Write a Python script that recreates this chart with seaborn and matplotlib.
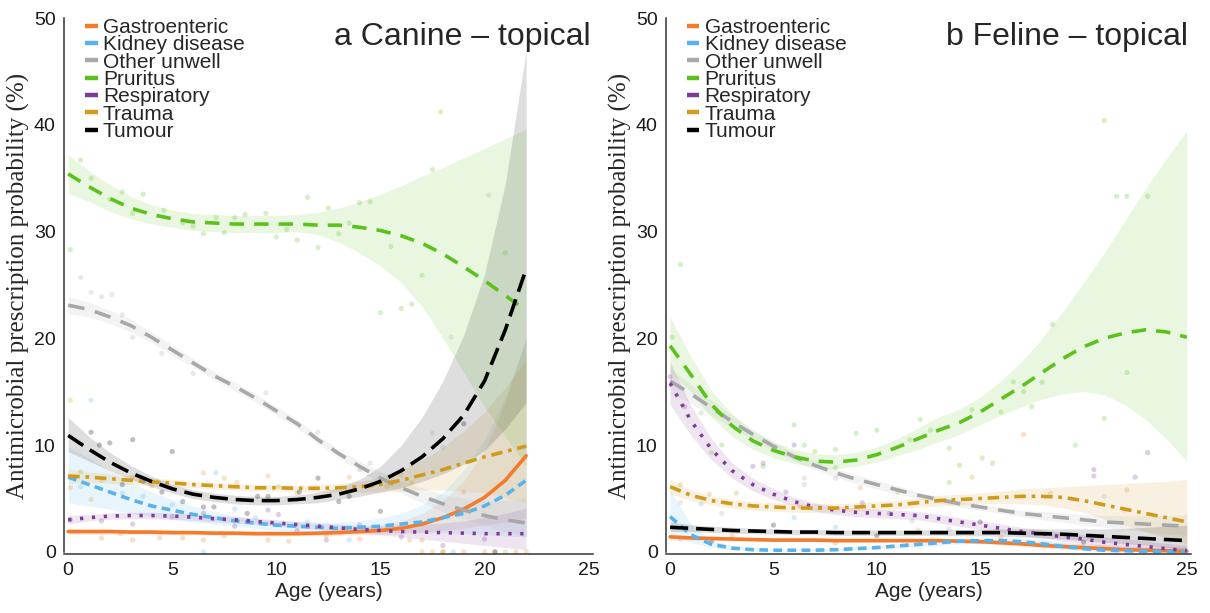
import numpy as np
import pandas as pd
import matplotlib
matplotlib.use("Agg")
import matplotlib.pyplot as plt
from matplotlib.lines import Line2D
import seaborn as sns

causes = ["Gastroenteric", "Kidney disease", "Other unwell", "Pruritus",
          "Respiratory", "Trauma", "Tumour"]
colors = {"Gastroenteric": "#F47A2C", "Kidney disease": "#5AB2EC",
          "Other unwell": "#A8A8A8", "Pruritus": "#5BC21C",
          "Respiratory": "#7D3C98", "Trauma": "#D09A1A", "Tumour": "#000000"}
dashes = {"Gastroenteric": "", "Kidney disease": (2.4, 1.5), "Other unwell": (4.6, 3.0),
          "Pruritus": (4.0, 2.8), "Respiratory": (0.9, 2.4), "Trauma": (3.2, 1.6, 1.0, 1.6),
          "Tumour": (5.0, 2.2)}

# ---- a: canine, ages 0..22 ----
age_c = list(range(0, 23))
gastro_c = [1.9, 1.9, 1.9, 1.85, 1.85, 1.8, 1.8, 1.75, 1.75, 1.7, 1.7, 1.7, 1.75, 1.8, 1.9, 2.0, 2.2, 2.6, 3.2, 4.0, 5.1, 6.7, 9.0]
gastro_c_lo = [1.6, 1.65, 1.65, 1.65, 1.6, 1.6, 1.6, 1.55, 1.55, 1.5, 1.5, 1.5, 1.5, 1.5, 1.6, 1.6, 1.7, 1.8, 2.0, 2.2, 2.5, 2.8, 3.2]
gastro_c_hi = [2.2, 2.15, 2.15, 2.1, 2.1, 2.05, 2.0, 2.0, 2.0, 1.95, 1.95, 1.95, 2.0, 2.15, 2.3, 2.5, 2.9, 3.6, 4.8, 6.6, 9.5, 14.0, 20.0]
kidney_c = [7.0, 6.3, 5.6, 4.9, 4.3, 3.9, 3.5, 3.2, 2.9, 2.7, 2.5, 2.4, 2.3, 2.2, 2.3, 2.4, 2.6, 2.8, 3.2, 3.6, 4.3, 5.3, 6.7]
kidney_c_lo = [4.6, 4.3, 4.0, 3.6, 3.3, 3.0, 2.8, 2.6, 2.4, 2.2, 2.0, 1.9, 1.8, 1.75, 1.75, 1.8, 1.8, 1.8, 1.8, 1.7, 1.6, 1.5, 1.4]
kidney_c_hi = [9.8, 8.8, 7.6, 6.5, 5.6, 4.9, 4.3, 3.8, 3.4, 3.1, 2.9, 2.8, 2.8, 2.8, 2.9, 3.2, 3.6, 4.4, 5.6, 7.6, 10.5, 14.5, 20.0]
other_c = [23.1, 22.7, 22.0, 21.2, 20.1, 18.9, 17.7, 16.5, 15.5, 14.4, 13.2, 12.0, 10.5, 9.2, 8.0, 6.9, 6.0, 5.2, 4.5, 3.9, 3.4, 3.0, 2.7]
other_c_lo = [22.3, 22.0, 21.4, 20.6, 19.6, 18.4, 17.3, 16.1, 15.1, 14.0, 12.8, 11.6, 10.1, 8.8, 7.6, 6.4, 5.5, 4.6, 3.8, 3.1, 2.5, 1.9, 1.4]
other_c_hi = [23.9, 23.4, 22.6, 21.8, 20.6, 19.4, 18.1, 16.9, 15.9, 14.8, 13.6, 12.4, 10.9, 9.6, 8.5, 7.5, 6.6, 6.0, 5.4, 5.0, 4.8, 4.8, 5.0]
prur_c = [35.4, 34.2, 33.1, 32.2, 31.6, 31.2, 30.9, 30.8, 30.7, 30.7, 30.7, 30.7, 30.6, 30.6, 30.4, 30.1, 29.6, 28.9, 27.9, 26.7, 25.4, 24.0, 22.6]
prur_c_lo = [33.6, 32.8, 31.9, 31.2, 30.7, 30.4, 30.1, 30.0, 29.9, 29.9, 29.9, 30.0, 29.7, 29.0, 28.0, 26.8, 25.2, 23.0, 20.0, 16.8, 13.6, 10.8, 8.0]
prur_c_hi = [37.2, 35.7, 34.4, 33.3, 32.5, 32.0, 31.7, 31.6, 31.5, 31.5, 31.5, 31.6, 31.8, 32.2, 32.8, 33.5, 34.3, 35.2, 36.0, 36.9, 37.8, 38.7, 39.6]
resp_c = [3.0, 3.2, 3.35, 3.4, 3.4, 3.35, 3.25, 3.1, 3.0, 2.85, 2.7, 2.55, 2.4, 2.25, 2.1, 2.0, 1.9, 1.85, 1.8, 1.75, 1.7, 1.7, 1.7]
resp_c_lo = [2.6, 2.9, 3.05, 3.1, 3.1, 3.05, 2.95, 2.8, 2.7, 2.55, 2.4, 2.25, 2.1, 1.95, 1.75, 1.6, 1.4, 1.2, 1.0, 0.8, 0.6, 0.4, 0.2]
resp_c_hi = [3.4, 3.5, 3.65, 3.7, 3.7, 3.65, 3.55, 3.4, 3.3, 3.15, 3.0, 2.85, 2.7, 2.6, 2.5, 2.45, 2.45, 2.55, 2.7, 2.9, 3.2, 3.6, 4.1]
trauma_c = [7.1, 7.0, 6.85, 6.7, 6.55, 6.45, 6.3, 6.2, 6.1, 6.0, 6.0, 5.95, 5.95, 6.0, 6.1, 6.3, 6.7, 7.2, 7.7, 8.3, 8.9, 9.4, 9.9]
trauma_c_lo = [6.4, 6.5, 6.4, 6.3, 6.2, 6.1, 6.0, 5.9, 5.8, 5.7, 5.7, 5.65, 5.6, 5.6, 5.6, 5.6, 5.7, 5.8, 5.8, 5.7, 5.5, 5.1, 4.6]
trauma_c_hi = [7.8, 7.5, 7.3, 7.1, 6.9, 6.8, 6.6, 6.5, 6.4, 6.3, 6.3, 6.25, 6.3, 6.4, 6.6, 7.0, 7.7, 8.6, 9.8, 11.3, 13.1, 15.4, 18.0]
tumour_c = [10.9, 9.6, 8.4, 7.4, 6.6, 5.9, 5.4, 5.1, 4.9, 4.8, 4.8, 4.9, 5.1, 5.4, 5.9, 6.6, 7.6, 8.9, 10.6, 12.8, 16.0, 20.8, 26.5]
tumour_c_lo = [9.4, 8.5, 7.6, 6.8, 6.1, 5.5, 5.0, 4.7, 4.5, 4.4, 4.4, 4.5, 4.6, 4.9, 5.2, 5.6, 6.0, 6.6, 7.3, 8.2, 9.5, 11.5, 14.0]
tumour_c_hi = [12.6, 10.8, 9.3, 8.1, 7.1, 6.3, 5.8, 5.5, 5.3, 5.2, 5.2, 5.3, 5.6, 6.0, 6.8, 8.0, 10.0, 12.6, 16.0, 20.3, 26.0, 34.5, 47.0]

# ---- b: feline, ages 0..25 ----
age_f = list(range(0, 26))
gastro_f = [1.4, 1.3, 1.25, 1.2, 1.15, 1.1, 1.1, 1.1, 1.05, 1.05, 1.05, 1.05, 1.05, 1.05, 1.0, 0.95, 0.85, 0.75, 0.6, 0.5, 0.4, 0.3, 0.2, 0.15, 0.1, 0.05]
gastro_f_lo = [1.1, 1.1, 1.05, 1.0, 1.0, 0.95, 0.95, 0.95, 0.9, 0.9, 0.9, 0.9, 0.9, 0.9, 0.85, 0.75, 0.65, 0.5, 0.35, 0.25, 0.15, 0.1, 0.05, 0.02, 0.0, 0.0]
gastro_f_hi = [1.7, 1.5, 1.45, 1.4, 1.3, 1.25, 1.25, 1.25, 1.2, 1.2, 1.2, 1.2, 1.2, 1.2, 1.2, 1.15, 1.1, 1.0, 0.95, 0.85, 0.8, 0.7, 0.6, 0.55, 0.5, 0.45]
kidney_f = [3.3, 1.6, 0.7, 0.35, 0.2, 0.15, 0.15, 0.15, 0.2, 0.3, 0.4, 0.55, 0.7, 0.85, 1.0, 1.05, 1.05, 0.95, 0.75, 0.5, 0.3, 0.15, 0.1, 0.05, 0.03, 0.02]
kidney_f_lo = [1.6, 0.9, 0.4, 0.2, 0.1, 0.08, 0.08, 0.08, 0.1, 0.15, 0.25, 0.35, 0.5, 0.6, 0.75, 0.8, 0.8, 0.65, 0.45, 0.25, 0.1, 0.05, 0.02, 0.0, 0.0, 0.0]
kidney_f_hi = [5.8, 2.6, 1.1, 0.6, 0.35, 0.3, 0.3, 0.3, 0.35, 0.45, 0.6, 0.75, 0.9, 1.1, 1.25, 1.3, 1.35, 1.3, 1.15, 0.95, 0.75, 0.6, 0.5, 0.45, 0.4, 0.4]
other_f = [16.0, 14.8, 13.5, 12.2, 11.0, 9.9, 8.9, 8.1, 7.4, 6.8, 6.3, 5.8, 5.3, 4.9, 4.5, 4.2, 3.9, 3.6, 3.4, 3.2, 3.0, 2.8, 2.7, 2.6, 2.5, 2.4]
other_f_lo = [14.8, 13.9, 12.8, 11.6, 10.5, 9.5, 8.5, 7.7, 7.0, 6.4, 5.9, 5.4, 5.0, 4.6, 4.2, 3.9, 3.6, 3.3, 3.0, 2.8, 2.5, 2.3, 2.1, 1.9, 1.7, 1.5]
other_f_hi = [17.2, 15.7, 14.2, 12.8, 11.5, 10.3, 9.3, 8.5, 7.8, 7.2, 6.7, 6.2, 5.6, 5.2, 4.8, 4.5, 4.2, 3.9, 3.8, 3.6, 3.5, 3.4, 3.4, 3.4, 3.4, 3.5]
prur_f = [19.3, 16.6, 13.8, 11.8, 10.4, 9.5, 8.9, 8.5, 8.4, 8.6, 9.1, 9.8, 10.6, 11.4, 12.1, 13.1, 14.3, 15.5, 16.8, 18.1, 19.2, 20.0, 20.5, 20.8, 20.6, 20.1]
prur_f_lo = [16.8, 15.0, 12.6, 10.8, 9.6, 8.8, 8.3, 7.9, 7.8, 8.0, 8.4, 9.0, 9.6, 10.3, 11.0, 11.9, 12.8, 13.6, 14.3, 14.8, 15.0, 14.7, 13.8, 12.4, 10.6, 8.5]
prur_f_hi = [22.0, 18.3, 15.1, 12.9, 11.3, 10.3, 9.6, 9.2, 9.1, 9.3, 9.8, 10.6, 11.6, 12.6, 13.4, 14.5, 16.0, 17.8, 20.0, 22.5, 25.2, 28.0, 31.0, 34.0, 36.8, 39.5]
resp_f = [15.8, 12.3, 9.6, 7.6, 6.3, 5.4, 4.7, 4.2, 3.9, 3.7, 3.6, 3.5, 3.4, 3.1, 2.8, 2.5, 2.2, 1.9, 1.7, 1.4, 1.2, 0.9, 0.7, 0.5, 0.3, 0.1]
resp_f_lo = [13.8, 10.9, 8.6, 6.9, 5.7, 4.9, 4.3, 3.8, 3.5, 3.3, 3.2, 3.1, 3.0, 2.7, 2.4, 2.1, 1.8, 1.5, 1.3, 1.0, 0.8, 0.5, 0.3, 0.15, 0.05, 0.0]
resp_f_hi = [17.8, 13.7, 10.6, 8.3, 6.9, 5.9, 5.1, 4.6, 4.3, 4.1, 4.0, 3.9, 3.8, 3.5, 3.2, 2.9, 2.6, 2.3, 2.1, 1.8, 1.6, 1.4, 1.2, 1.0, 0.8, 0.6]
trauma_f = [6.1, 5.3, 4.8, 4.5, 4.3, 4.2, 4.1, 4.1, 4.1, 4.2, 4.3, 4.4, 4.6, 4.8, 4.9, 5.0, 5.1, 5.2, 5.2, 5.1, 4.8, 4.4, 4.0, 3.6, 3.2, 2.8]
trauma_f_lo = [5.4, 4.8, 4.4, 4.1, 3.9, 3.8, 3.7, 3.7, 3.7, 3.8, 3.9, 4.0, 4.2, 4.3, 4.4, 4.5, 4.5, 4.5, 4.4, 4.1, 3.7, 3.1, 2.5, 1.9, 1.3, 0.7]
trauma_f_hi = [6.8, 5.8, 5.2, 4.9, 4.7, 4.6, 4.5, 4.5, 4.5, 4.6, 4.7, 4.8, 5.0, 5.3, 5.4, 5.5, 5.7, 5.9, 6.0, 6.1, 6.2, 6.3, 6.4, 6.5, 6.6, 6.8]
tumour_f = [2.3, 2.2, 2.1, 2.0, 1.95, 1.9, 1.85, 1.85, 1.8, 1.8, 1.8, 1.8, 1.8, 1.8, 1.8, 1.8, 1.8, 1.75, 1.7, 1.65, 1.55, 1.45, 1.35, 1.25, 1.15, 1.05]
tumour_f_lo = [1.9, 1.9, 1.8, 1.75, 1.7, 1.65, 1.6, 1.6, 1.55, 1.55, 1.55, 1.55, 1.55, 1.55, 1.5, 1.5, 1.45, 1.4, 1.3, 1.2, 1.05, 0.9, 0.75, 0.6, 0.4, 0.25]
tumour_f_hi = [2.8, 2.55, 2.4, 2.3, 2.2, 2.15, 2.1, 2.1, 2.05, 2.05, 2.05, 2.05, 2.05, 2.1, 2.1, 2.1, 2.15, 2.15, 2.15, 2.15, 2.15, 2.15, 2.2, 2.3, 2.4, 2.5]

# ---- raw points (faint) ----
pts_c = {
    "Pruritus": ([0.1, 0.6, 1.1, 2.0, 2.6, 3.1, 3.6, 4.6, 5.5, 6.0, 6.5, 7.1, 7.5, 8.0, 8.5, 9.5, 10.0, 10.5, 11.0, 11.5, 12.0, 12.5, 13.0, 13.5, 14.0, 14.5, 15.0, 15.5, 16.0, 16.5, 17.0, 17.5, 17.9, 21.0],
                 [28.3, 36.7, 35.0, 33.0, 33.7, 31.7, 33.5, 32.0, 30.8, 30.5, 29.8, 31.3, 29.9, 31.3, 31.6, 31.7, 29.5, 30.2, 29.2, 33.2, 28.5, 32.2, 29.8, 30.8, 32.7, 32.8, 22.4, 28.6, 22.8, 23.2, 25.9, 35.8, 41.2, 28.0]),
    "Other unwell": ([0.6, 1.1, 1.6, 2.1, 2.6, 3.1, 4.5, 6.0, 9.5, 12.0, 14.0, 14.5, 16.0, 17.5, 18.0, 18.4, 20.2],
                     [25.7, 24.3, 23.9, 24.1, 22.2, 20.1, 18.6, 16.7, 14.9, 11.2, 7.7, 8.3, 7.2, 11.1, 9.8, 20.1, 33.4]),
    "Tumour": ([1.1, 1.5, 2.0, 2.6, 3.1, 3.6, 4.5, 5.0, 5.5, 6.5, 7.0, 8.6, 9.1, 9.6, 11.1, 12.0, 13.0, 13.5, 15.0, 19.0, 20.5],
               [11.2, 10.0, 10.2, 6.3, 10.5, 6.6, 5.6, 9.4, 4.7, 4.2, 4.2, 3.6, 5.2, 5.2, 5.6, 6.9, 4.7, 5.2, 3.8, 12.0, 0.0]),
    "Trauma": ([0.1, 0.1, 0.6, 1.1, 1.6, 3.1, 4.0, 6.5, 7.5, 8.1, 9.6, 10.1, 11.0, 13.5, 15.3, 16.5, 17.0, 17.5, 18.0, 19.0, 20.0, 21.0, 22.0],
               [6.0, 14.2, 7.5, 4.9, 6.7, 7.0, 6.2, 7.4, 6.9, 6.5, 7.1, 6.1, 5.5, 7.0, 6.1, 6.5, 0.0, 0.0, 0.0, 5.6, 0.0, 0.0, 0.0]),
    "Kidney disease": ([0.6, 1.1, 2.6, 3.6, 5.0, 6.5, 7.1, 8.0, 9.0, 11.5, 13.5, 15.9, 17.0, 18.5],
                       [6.1, 14.2, 5.5, 5.2, 4.4, 0.0, 7.4, 4.0, 3.2, 2.8, 1.1, 2.3, 2.6, 0.0]),
    "Respiratory": ([0.1, 1.6, 3.1, 5.0, 6.5, 8.0, 9.6, 10.1, 11.0, 12.4, 14.0, 16.0, 18.0, 20.0],
                    [3.0, 2.9, 2.6, 3.3, 3.6, 2.4, 3.9, 3.5, 2.0, 1.1, 2.5, 1.4, 0.6, 1.2]),
    "Gastroenteric": ([1.6, 2.5, 3.1, 4.4, 5.5, 6.5, 7.5, 9.6, 10.6, 12.4, 14.0, 16.4, 17.0, 18.0, 19.0, 20.5, 21.5],
                      [1.3, 1.7, 1.1, 1.3, 1.3, 1.1, 1.5, 1.1, 1.0, 1.5, 1.2, 1.1, 1.1, 0.0, 0.0, 0.0, 0.0]),
}
pts_f = {
    "Pruritus": ([0.1, 0.5, 2.0, 2.5, 4.5, 6.0, 6.5, 7.0, 8.0, 8.0, 9.0, 10.0, 11.6, 12.1, 12.6, 13.5, 13.5, 14.0, 14.6, 15.1, 15.6, 16.0, 16.6, 17.1, 17.5, 18.0, 18.5, 19.6, 21.0, 21.0, 21.6, 22.1, 22.1, 23.1],
                 [20.1, 26.9, 9.3, 10.0, 8.0, 11.9, 10.0, 9.4, 9.6, 7.9, 11.1, 11.4, 10.5, 12.4, 11.4, 9.7, 6.5, 8.1, 13.3, 8.8, 8.3, 13.1, 15.9, 15.0, 13.6, 15.9, 21.3, 10.0, 12.5, 40.4, 33.3, 33.3, 16.8, 33.3]),
    "Other unwell": ([0.5, 1.5, 2.5, 6.5, 6.5, 8.0, 11.7, 11.8, 13.5, 21.0, 22.0],
                     [4.6, 13.0, 3.6, 6.9, 6.3, 6.9, 2.9, 3.4, 2.1, 5.2, 3.9]),
    "Respiratory": ([0.0, 0.7, 4.0, 4.5, 5.6, 6.0, 9.3, 10.6, 20.5, 20.5, 22.5, 23.1],
                    [16.4, 13.6, 8.0, 8.3, 5.6, 10.0, 4.6, 3.6, 7.7, 7.1, 7.0, 9.3]),
    "Trauma": ([0.5, 1.9, 3.2, 6.3, 9.2, 11.0, 14.6, 18.4, 22.1],
               [6.3, 5.4, 5.5, 4.2, 6.0, 5.6, 7.0, 5.5, 5.8]),
    "Gastroenteric": ([3.0, 8.0, 12.0, 16.0, 17.1], [1.5, 0.8, 2.0, 1.4, 11.0]),
    "Kidney disease": ([0.5, 1.5, 6.0, 8.0], [1.2, 4.5, 3.2, 2.3]),
    "Tumour": ([2.0, 5.0, 10.0, 15.0, 20.0], [1.0, 2.5, 1.5, 2.8, 0.9]),
}

fits_c = {"Gastroenteric": (gastro_c, gastro_c_lo, gastro_c_hi),
          "Kidney disease": (kidney_c, kidney_c_lo, kidney_c_hi),
          "Other unwell": (other_c, other_c_lo, other_c_hi),
          "Pruritus": (prur_c, prur_c_lo, prur_c_hi),
          "Respiratory": (resp_c, resp_c_lo, resp_c_hi),
          "Trauma": (trauma_c, trauma_c_lo, trauma_c_hi),
          "Tumour": (tumour_c, tumour_c_lo, tumour_c_hi)}
fits_f = {"Gastroenteric": (gastro_f, gastro_f_lo, gastro_f_hi),
          "Kidney disease": (kidney_f, kidney_f_lo, kidney_f_hi),
          "Other unwell": (other_f, other_f_lo, other_f_hi),
          "Pruritus": (prur_f, prur_f_lo, prur_f_hi),
          "Respiratory": (resp_f, resp_f_lo, resp_f_hi),
          "Trauma": (trauma_f, trauma_f_lo, trauma_f_hi),
          "Tumour": (tumour_f, tumour_f_lo, tumour_f_hi)}

sns.set_style("white")
plt.rcParams["font.family"] = ["Liberation Sans", "DejaVu Sans"]

fig = plt.figure(figsize=(12.1, 6.13), dpi=100)
axes = [fig.add_axes([0.0529, 0.0963, 0.437, 0.8743]),
        fig.add_axes([0.5504, 0.0963, 0.4339, 0.8743])]

panels = [("a Canine \u2013 topical", age_c, fits_c, pts_c),
          ("b Feline \u2013 topical", age_f, fits_f, pts_f)]

for ax, (title, ages, fits, pts) in zip(axes, panels):
    rows = []
    for c in causes:
        m, lo, hi = fits[c]
        ax.fill_between(ages, lo, hi, color=colors[c], alpha=0.13, linewidth=0)
        for a, v in zip(ages, m):
            rows.append((c, a, v))
    df = pd.DataFrame(rows, columns=["cause", "age", "prob"])

    prow = []
    for c in causes:
        xs, ys = pts[c]
        for a, v in zip(xs, ys):
            prow.append((c, a, v))
    dp = pd.DataFrame(prow, columns=["cause", "age", "prob"])
    sns.scatterplot(data=dp, x="age", y="prob", hue="cause", palette=colors,
                    alpha=0.25, s=14, linewidth=0, legend=False, ax=ax, clip_on=False)

    sns.lineplot(data=df, x="age", y="prob", hue="cause", style="cause",
                 palette=colors, dashes=dashes, linewidth=2.6, legend=False,
                 errorbar=None, ax=ax)

    ax.set_xlim(-0.2, 25.2)
    ax.set_ylim(-0.2, 50)
    ax.set_xticks([0, 5, 10, 15, 20, 25])
    ax.set_yticks([0, 10, 20, 30, 40, 50])
    ax.tick_params(axis="both", labelsize=14, length=4, width=1, color="#333333",
                   labelcolor="#1a1a1a", direction="out", pad=2)
    for side in ["top", "right"]:
        ax.spines[side].set_visible(False)
    for side in ["left", "bottom"]:
        ax.spines[side].set_color("#333333")
        ax.spines[side].set_linewidth(1.1)
    ax.spines["left"].set_bounds(0, 50)
    ax.set_xlabel("Age (years)", fontsize=15, labelpad=2)
    ax.set_ylabel("Antimicrobial prescription probability (%)", fontsize=18,
                  family="Liberation Serif", labelpad=3)
    ax.text(0.995, 0.992, title, transform=ax.transAxes, ha="right", va="top",
            fontsize=23)

    handles = [Line2D([0], [0], color=colors[c], lw=3.2, solid_capstyle="butt")
               for c in causes]
    ax.legend(handles, causes, loc="upper left", bbox_to_anchor=(0.04, 1.0),
              frameon=False, fontsize=15, handlelength=0.6, handletextpad=0.25,
              labelspacing=-0.08, borderaxespad=0, borderpad=0)

fig.savefig("out.png", dpi=100)
